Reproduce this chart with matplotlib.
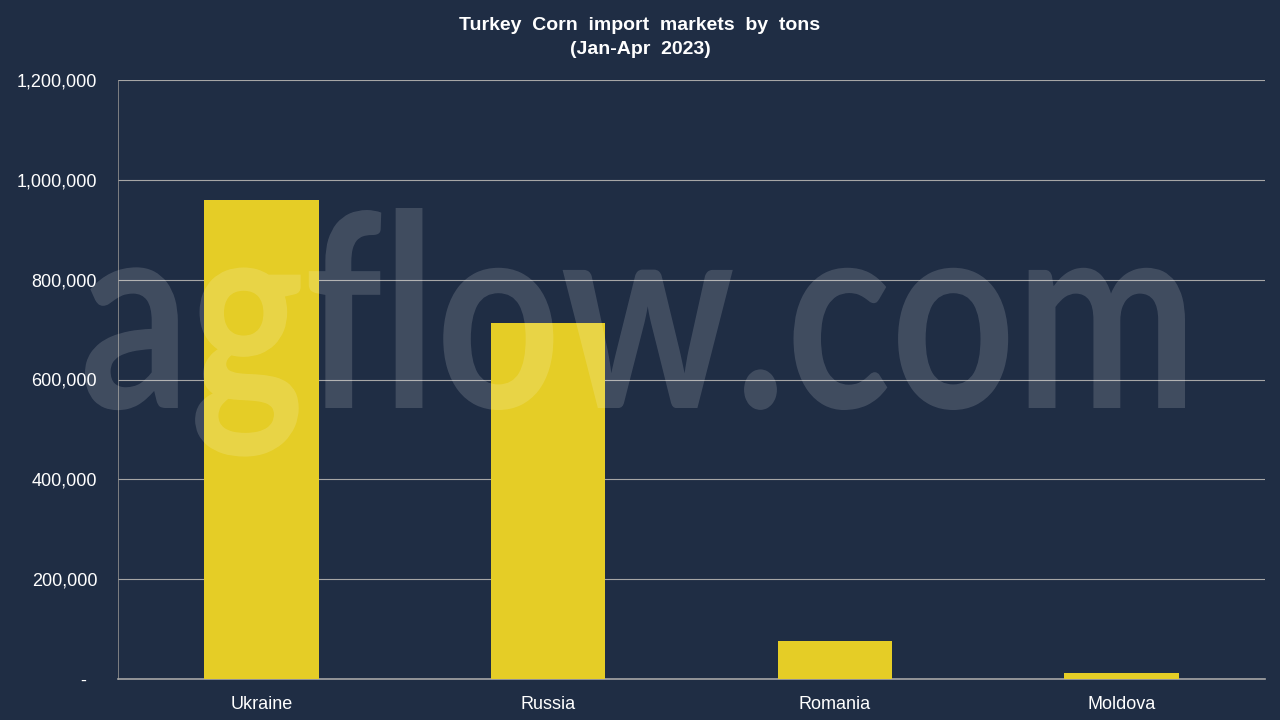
import numpy as np
import matplotlib.pyplot as plt
from matplotlib.ticker import FuncFormatter
from matplotlib.textpath import TextPath
from matplotlib.patches import PathPatch
from matplotlib.font_manager import FontProperties
from matplotlib.transforms import Affine2D

countries = ['Ukraine', 'Russia', 'Romania', 'Moldova']
tons = [960000, 713000, 76500, 13000]
yticks = [0, 200000, 400000, 600000, 800000, 1000000, 1200000]

bg = '#1f2d44'
bar_color = '#e5cd26'

plt.rcParams['font.family'] = ['Liberation Sans', 'DejaVu Sans']

fig = plt.figure(figsize=(12.8, 7.2), dpi=100, facecolor=bg)
ax = fig.add_axes([118 / 1280, 1 - 679 / 720, (1265 - 118) / 1280, (679 - 80) / 720])
ax.set_facecolor(bg)

x = np.arange(len(countries))
ax.bar(x, tons, width=0.4, color=bar_color, zorder=3)

ax.set_xlim(-0.5, len(countries) - 0.5)
ax.set_ylim(0, 1200000)
ax.set_yticks(yticks)
ax.yaxis.set_major_formatter(FuncFormatter(lambda v, p: '-  ' if v == 0 else f'{int(v):,}'))
ax.set_xticks(x)
ax.set_xticklabels(countries)

ax.grid(axis='y', color='#a6a6a6', linewidth=0.8, zorder=0)
ax.tick_params(axis='both', length=0, colors='white', labelsize=13)
ax.tick_params(axis='y', pad=15)
ax.tick_params(axis='x', pad=12)

for s in ['top', 'right']:
    ax.spines[s].set_visible(False)
ax.spines['left'].set_color('#8c8c8c')
ax.spines['left'].set_linewidth(0.6)
ax.spines['bottom'].set_color('#a6a6a6')
ax.spines['bottom'].set_linewidth(1.2)

fig.text(0.5, 1 - 25 / 720, 'Turkey  Corn  import  markets  by  tons',
         ha='center', va='center', color='white', fontsize=14, fontweight='bold')
fig.text(0.5, 1 - 50 / 720, '(Jan-Apr  2023)',
         ha='center', va='center', color='white', fontsize=14, fontweight='bold')

# watermark: baseline and ascender fitted to the reference (pixels from bottom)
tp = TextPath((0, 0), 'agflow.com', size=100, prop=FontProperties(family='Lato', weight='bold'))
ext = tp.get_extents()
x0, x1 = 85, 1185
base, top = 720 - 408, 720 - 208
tr = (Affine2D().translate(-ext.x0, 0)
      .scale((x1 - x0) / ext.width, (top - base) / ext.y1)
      .translate(x0, base))
wm = PathPatch(tr.transform_path(tp), facecolor='white', edgecolor='none',
               alpha=0.15, transform=None, zorder=10)
fig.patches.append(wm)

fig.savefig('out.png', dpi=100, facecolor=bg)
